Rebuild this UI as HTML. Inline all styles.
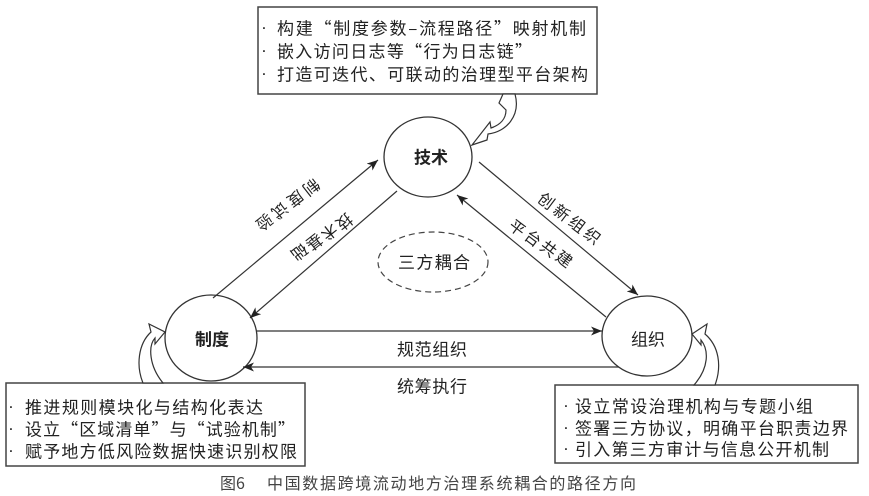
<!DOCTYPE html>
<html>
<head>
<meta charset="utf-8">
<style>
  html, body { margin: 0; padding: 0; background: #fff; }
  body { width: 869px; height: 496px; overflow: hidden; }
  svg { display: block; }
  text { font-family: "Liberation Sans", "Noto Sans CJK SC", sans-serif; fill: #222; }
  .cjk { font-family: "Noto Sans CJK SC", "WenQuanYi Zen Hei", sans-serif; }
</style>
</head>
<body>
<svg width="869" height="496" viewBox="0 0 869 496" xmlns="http://www.w3.org/2000/svg">
  <defs>
    <marker id="ah" markerUnits="userSpaceOnUse" markerWidth="12" markerHeight="10" refX="11" refY="4.5" orient="auto">
      <path d="M0,0 L11,4.5 L0,9 L3,4.5 Z" fill="#222"/>
    </marker>
  </defs>

  <!-- Top box -->
  <rect x="258" y="7" width="339" height="87" fill="#fff" stroke="#444" stroke-width="1.5"/>
  <g font-size="17" dominant-baseline="central">
    <text x="264" y="27" text-anchor="middle">·</text>
    <text x="277" y="27" class="cjk" textLength="309" lengthAdjust="spacing">构建“制度参数–流程路径”映射机制</text>
    <text x="264" y="50" text-anchor="middle">·</text>
    <text x="277" y="50" class="cjk" textLength="255" lengthAdjust="spacing">嵌入访问日志等“行为日志链”</text>
    <text x="264" y="73" text-anchor="middle">·</text>
    <text x="277" y="73" class="cjk" textLength="311" lengthAdjust="spacing">打造可迭代、可联动的治理型平台架构</text>
  </g>

  <!-- Left box -->
  <rect x="6" y="383" width="299" height="83" fill="#fff" stroke="#444" stroke-width="1.5"/>
  <g font-size="17" dominant-baseline="central">
    <text x="11" y="406" text-anchor="middle">·</text>
    <text x="25" y="406" class="cjk" textLength="238" lengthAdjust="spacing">推进规则模块化与结构化表达</text>
    <text x="11" y="428" text-anchor="middle">·</text>
    <text x="25" y="428" class="cjk" textLength="270" lengthAdjust="spacing">设立“区域清单”与“试验机制”</text>
    <text x="11" y="450" text-anchor="middle">·</text>
    <text x="25" y="450" class="cjk" textLength="272" lengthAdjust="spacing">赋予地方低风险数据快速识别权限</text>
  </g>

  <!-- Right box -->
  <rect x="555" y="385" width="303" height="78" fill="#fff" stroke="#444" stroke-width="1.5"/>
  <g font-size="17" dominant-baseline="central">
    <text x="566" y="405" text-anchor="middle">·</text>
    <text x="575" y="405" class="cjk" textLength="238" lengthAdjust="spacing">设立常设治理机构与专题小组</text>
    <text x="566" y="427" text-anchor="middle">·</text>
    <text x="575" y="427" class="cjk" textLength="273" lengthAdjust="spacing">签署三方协议，明确平台职责边界</text>
    <text x="566" y="448" text-anchor="middle">·</text>
    <text x="575" y="448" class="cjk" textLength="254" lengthAdjust="spacing">引入第三方审计与信息公开机制</text>
  </g>

  <!-- Ellipses -->
  <ellipse cx="428" cy="157" rx="44" ry="40" fill="#fff" stroke="#333" stroke-width="1.3"/>
  <ellipse cx="211" cy="338" rx="46" ry="43" fill="#fff" stroke="#333" stroke-width="1.3"/>
  <ellipse cx="647" cy="336" rx="45" ry="40" fill="#fff" stroke="#333" stroke-width="1.3"/>
  <ellipse cx="433" cy="262" rx="55" ry="30" fill="none" stroke="#444" stroke-width="1.2" stroke-dasharray="6 4"/>

  <g font-size="17" dominant-baseline="central" text-anchor="middle">
    <text x="431" y="156" class="cjk" font-weight="bold">技术</text>
    <text x="212" y="338" class="cjk" font-weight="bold">制度</text>
    <text x="648" y="338" class="cjk">组织</text>
    <text x="434" y="261" class="cjk" textLength="72" lengthAdjust="spacing" x-anchor="">三方耦合</text>
  </g>

  <!-- Straight arrows -->
  <g stroke="#333" stroke-width="1.2" fill="none">
    <line x1="213" y1="298" x2="378" y2="160" marker-end="url(#ah)"/>
    <line x1="397" y1="191" x2="250" y2="318" marker-end="url(#ah)"/>
    <line x1="479" y1="162" x2="638" y2="295" marker-end="url(#ah)"/>
    <line x1="606" y1="317" x2="457" y2="195" marker-end="url(#ah)"/>
    <line x1="257" y1="331" x2="602" y2="331" marker-end="url(#ah)"/>
    <line x1="619" y1="367" x2="243" y2="367" marker-end="url(#ah)"/>
  </g>

  <!-- Horizontal labels -->
  <g font-size="17" dominant-baseline="central">
    <text x="397" y="348" class="cjk" textLength="70" lengthAdjust="spacing">规范组织</text>
    <text x="397" y="385" class="cjk" textLength="70" lengthAdjust="spacing">统筹执行</text>
  </g>

  <!-- Rotated labels (per character) -->
  <g font-size="16" dominant-baseline="central" text-anchor="middle" class="cjk">
    <!-- 制度试验 -->
    <text class="cjk" transform="translate(312,188) rotate(142)">制</text>
    <text class="cjk" transform="translate(296.3,199.7) rotate(142)">度</text>
    <text class="cjk" transform="translate(280.7,211.3) rotate(142)">试</text>
    <text class="cjk" transform="translate(265,223) rotate(142)">验</text>
    <!-- 技术基础 -->
    <text class="cjk" transform="translate(345,223) rotate(142)">技</text>
    <text class="cjk" transform="translate(330,233) rotate(142)">术</text>
    <text class="cjk" transform="translate(315,243) rotate(142)">基</text>
    <text class="cjk" transform="translate(300,253) rotate(142)">础</text>
    <!-- 创新组织 -->
    <text class="cjk" transform="translate(547,200) rotate(37)">创</text>
    <text class="cjk" transform="translate(562.3,211.7) rotate(37)">新</text>
    <text class="cjk" transform="translate(577.7,223.3) rotate(37)">组</text>
    <text class="cjk" transform="translate(593,235) rotate(37)">织</text>
    <!-- 平台共建 -->
    <text class="cjk" transform="translate(518,227) rotate(37)">平</text>
    <text class="cjk" transform="translate(533.7,237.3) rotate(37)">台</text>
    <text class="cjk" transform="translate(549.3,247.7) rotate(37)">共</text>
    <text class="cjk" transform="translate(565,258) rotate(37)">建</text>
  </g>

  <!-- Curly block arrows -->
  <g fill="#fff" stroke="#333" stroke-width="1.2" stroke-linejoin="miter">
    <path d="M 503 94 L 499 103 L 506 110 C 506 119, 500 125, 491 128 L 490 122 L 472 145 L 487 140 L 488 134 C 506 132, 521 116, 515 94 Z"/>
    <path d="M 143 383 C 136 366, 138 344, 151 332 L 149 324 L 165 332 L 155 344 L 155 338 C 148 346, 149 366, 163 383 Z"/>
    <path d="M 715 385 C 722 366, 719 346, 705 334 L 707 324 L 692 334 L 701 345 L 701 340 C 709 350, 709 368, 694 385 Z"/>
  </g>

  <!-- Caption -->
  <g font-size="16" dominant-baseline="central" style="fill:#444">
    <text x="220" y="482" class="cjk" style="fill:#444">图6</text>
    <text x="267" y="482" class="cjk" style="fill:#444" textLength="369" lengthAdjust="spacing">中国数据跨境流动地方治理系统耦合的路径方向</text>
  </g>
</svg>
</body>
</html>
